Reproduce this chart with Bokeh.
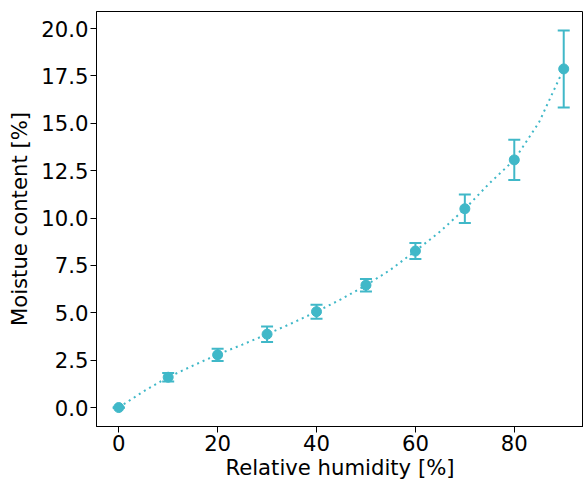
from bokeh.plotting import figure
from bokeh.models import ColumnDataSource, Whisker, TeeHead, FixedTicker, Range1d, NumeralTickFormatter
from bokeh.embed import file_html
from bokeh.resources import INLINE

# Measured data
rh = [0, 10, 20, 30, 40, 50, 60, 70, 80, 90]
moisture = [0.0, 1.60, 2.78, 3.87, 5.06, 6.46, 8.26, 10.49, 13.07, 17.87]
err = [0.02, 0.22, 0.32, 0.41, 0.37, 0.33, 0.42, 0.75, 1.06, 2.03]

# Fitted curve
fit_rh = [0, 5, 10, 15, 20, 25, 30, 35, 40, 45, 50, 55, 60, 65, 70, 75, 80, 85, 90]
fit_mc = [0.0, 0.85, 1.60, 2.21, 2.80, 3.32, 3.87, 4.45, 5.06, 5.72, 6.45, 7.28, 8.26, 9.29, 10.48, 11.84, 13.07, 15.05, 17.87]

x_ticks = [0, 20, 40, 60, 80]
y_ticks = [0, 2.5, 5, 7.5, 10, 12.5, 15, 17.5, 20]

color = "#40b8c8"
font = "DejaVu Sans"
fs = "21.2px"

p = figure(width=583, height=484, output_backend="svg", toolbar_location=None,
           x_range=Range1d(-4.5, 94.0), y_range=Range1d(-1.0, 20.9),
           min_border_left=96, min_border_right=0, min_border_top=11, min_border_bottom=58)

p.line(fit_rh, fit_mc, line_color=color, line_width=2, line_dash="2 4")

src = ColumnDataSource(dict(x=rh, y=moisture,
                            upper=[m + e for m, e in zip(moisture, err)],
                            lower=[m - e for m, e in zip(moisture, err)]))
w = Whisker(source=src, base="x", upper="upper", lower="lower",
            line_color=color, line_width=2,
            upper_head=TeeHead(size=12, line_color=color, line_width=2),
            lower_head=TeeHead(size=12, line_color=color, line_width=2))
p.add_layout(w)
p.scatter("x", "y", source=src, size=10, fill_color=color, line_color=color)

p.xgrid.visible = False
p.ygrid.visible = False
p.outline_line_color = "black"
p.outline_line_width = 1
p.outline_line_alpha = 1

for ax in (p.xaxis[0], p.yaxis[0]):
    ax.major_label_text_font = font
    ax.major_label_text_font_size = fs
    ax.major_label_text_color = "black"
    ax.axis_label_text_font = font
    ax.axis_label_text_font_size = fs
    ax.axis_label_text_font_style = "normal"
    ax.axis_label_text_color = "black"
    ax.axis_line_color = "black"
    ax.major_tick_line_color = "black"
    ax.major_tick_in = 0
    ax.major_tick_out = 6
    ax.minor_tick_line_color = None
    ax.major_label_standoff = 2

p.xaxis.ticker = FixedTicker(ticks=x_ticks)
p.yaxis.ticker = FixedTicker(ticks=y_ticks)
p.yaxis.formatter = NumeralTickFormatter(format="0.0")
p.xaxis.axis_label = "Relative humidity [%]"
p.yaxis.axis_label = "Moistue content [%]"
p.xaxis.axis_label_standoff = 1
p.yaxis.axis_label_standoff = 6

open("out.html", "w").write(file_html(p, INLINE))
